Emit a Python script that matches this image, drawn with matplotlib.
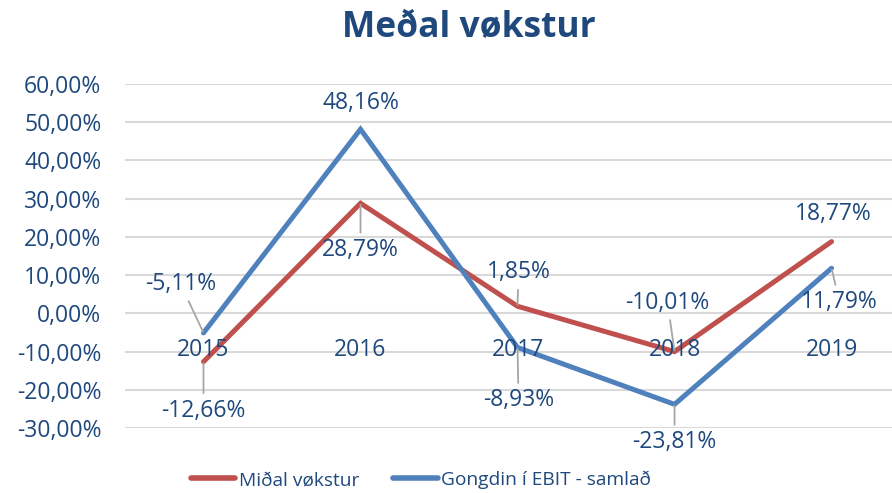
import matplotlib
matplotlib.use("Agg")
import matplotlib.pyplot as plt
from matplotlib.ticker import FuncFormatter, FixedLocator
from matplotlib.transforms import offset_copy

# ---- data ----
years = ["2015", "2016", "2017", "2018", "2019"]
midal_vokstur = [-12.66, 28.79, 1.85, -10.01, 18.77]
ebit_samlad = [-5.11, 48.16, -8.93, -23.81, 11.79]
title = "Meðal vøkstur"
series_names = ["Miðal vøkstur", "Gongdin í EBIT - samlað"]

# ---- styles ----
RED = "#C0504D"
BLUE = "#4F81BD"
TXT = "#1F497D"
GRID = "#D9D9D9"
LEADER = "#A6A6A6"
FONT = ["Open Sans", "DejaVu Sans"]
plt.rcParams["font.family"] = FONT
FS = 16.5

def pct(v):
    return f"{v:.2f}".replace(".", ",") + "%"

fig = plt.figure(figsize=(8.92, 4.93), dpi=100)
ax = fig.add_axes([125/892, 1-428/493, 1-125/892, (428-84)/493])

x = list(range(len(years)))
ax.plot(x, midal_vokstur, color=RED, lw=3.6, solid_capstyle="round", solid_joinstyle="miter", label=series_names[0], zorder=3)
ax.plot(x, ebit_samlad, color=BLUE, lw=3.6, solid_capstyle="round", solid_joinstyle="miter", label=series_names[1], zorder=3)

ax.set_ylim(-30, 60)
ax.set_xlim(-0.5, 4.385)
ax.yaxis.set_major_locator(FixedLocator([-30, -20, -10, 0, 10, 20, 30, 40, 50, 60]))
ax.yaxis.set_major_formatter(FuncFormatter(lambda v, p: pct(v)))
ax.grid(axis="y", color=GRID, lw=1.5, zorder=0)
ax.set_axisbelow(True)
for s in ["top", "right", "left", "bottom"]:
    ax.spines[s].set_visible(False)
ax.set_xticks([])
ax.tick_params(axis="y", length=0, pad=17, labelsize=FS, labelcolor=TXT)

# category labels next to the zero line, drawn above the lines
cat_tr = offset_copy(ax.transData, fig=fig, x=0, y=-37, units="dots")
for i, yr in enumerate(years):
    ax.text(i, 0, yr, transform=cat_tr, ha="center", va="center", fontsize=FS, color=TXT, zorder=5)

# data labels (offsets in pixels: dx, dy, leader)
red_off = [(0, -49, True), (0, -47, True), (1, 34, True), (-7, 49, True), (2, 28, False)]
blue_off = [(-23, 49, True), (0, 26, False), (1, -53, True), (0, -38, True), (8, -34, True)]

def label(vals, offs):
    for i, (v, (dx, dy, lead)) in enumerate(zip(vals, offs)):
        kw = {}
        if lead:
            kw["arrowprops"] = dict(arrowstyle="-", color=LEADER, lw=1.3, shrinkA=2, shrinkB=1)
        ax.annotate(pct(v), xy=(i, v), xytext=(dx, dy), textcoords="offset pixels",
                    ha="center", va="center", fontsize=FS, color=TXT, zorder=4, **kw)

label(midal_vokstur, red_off)
label(ebit_samlad, blue_off)

fig.text(469/892, 1-28/493, title, ha="center", va="center", fontsize=25.5, fontweight="bold", color=TXT)

leg = fig.legend(loc="center", bbox_to_anchor=(421/892, 1-480/493), ncol=2, frameon=False,
                 fontsize=13.8, handlelength=2.3, handletextpad=0.2, columnspacing=1.8)
for t in leg.get_texts():
    t.set_color(TXT)
for h in leg.get_lines():
    h.set_linewidth(4)
    h.set_solid_capstyle("round")

fig.savefig("out.png", dpi=100)
